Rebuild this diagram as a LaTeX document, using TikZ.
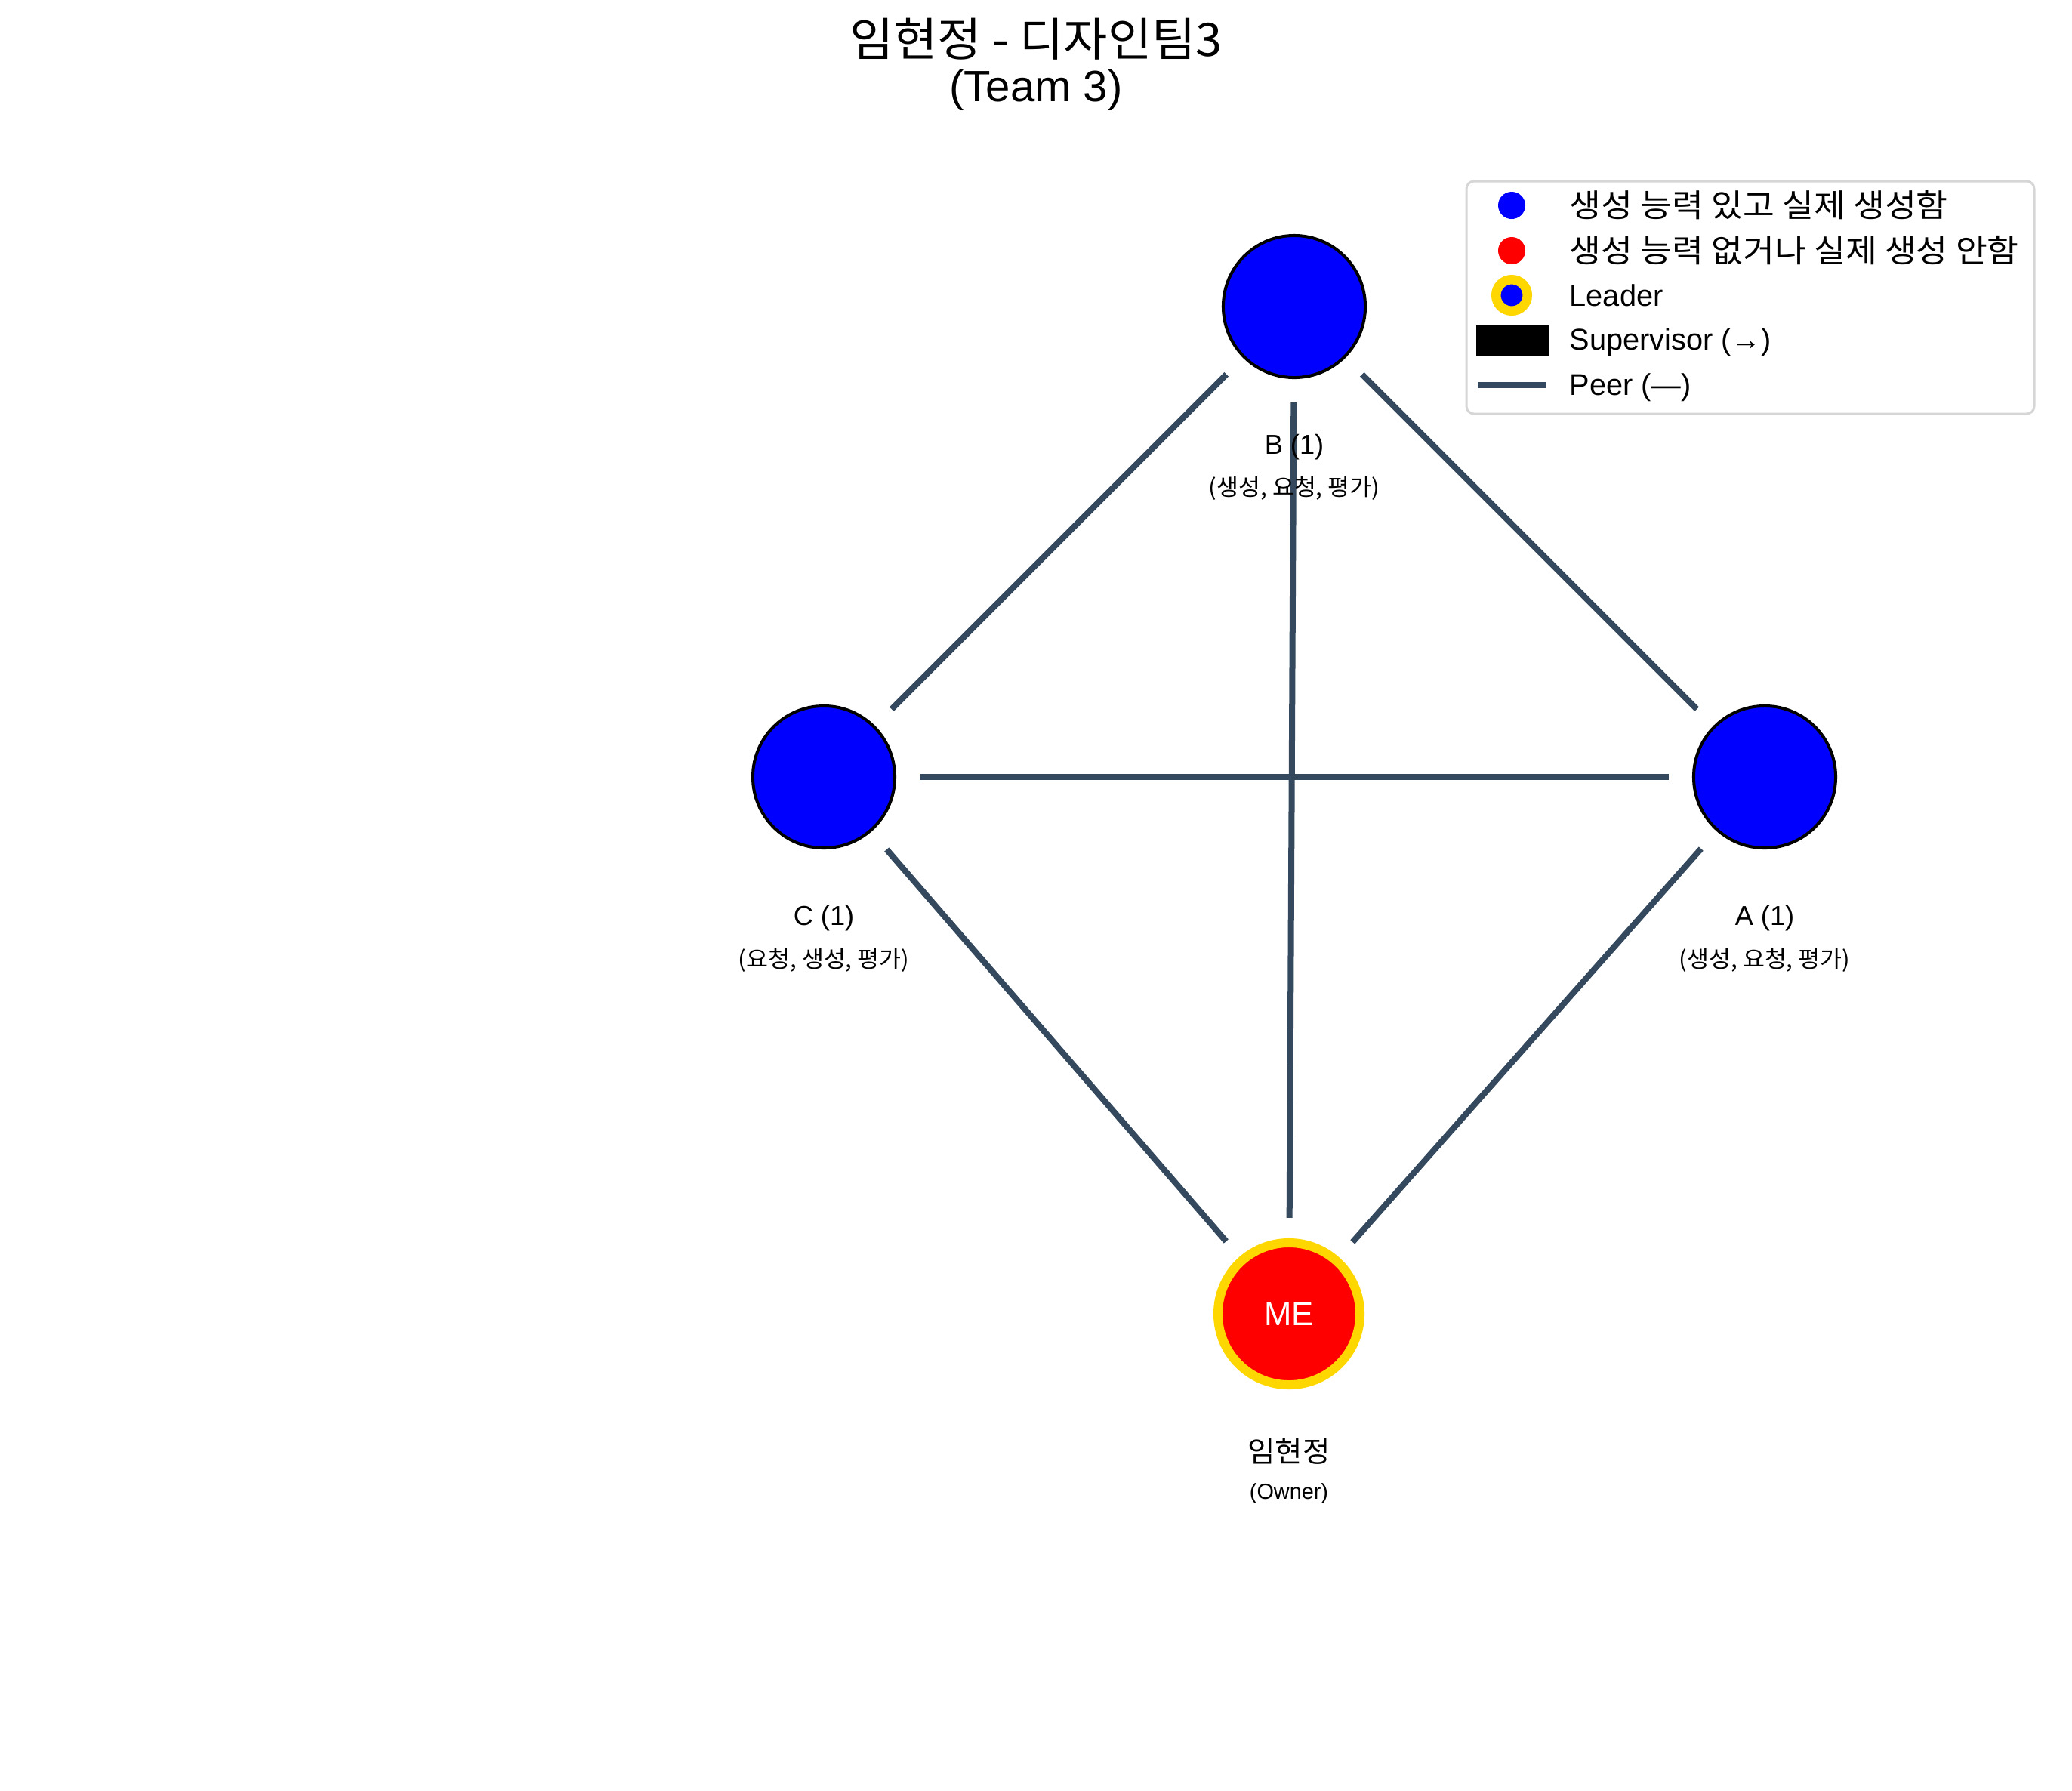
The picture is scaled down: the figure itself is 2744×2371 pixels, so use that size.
\documentclass[tikz,border=0pt]{standalone}
\usepackage{fontspec}
\setmainfont{Liberation Sans}
\newfontfamily\kr[Scale=1.06,FakeStretch=1.08]{Noto Sans CJK KR}
\newfontfamily\krb[Scale=1.05,FakeStretch=1.04]{Noto Sans CJK KR}
\definecolor{peercol}{HTML}{34495E}
\definecolor{gold}{HTML}{FFD700}
\definecolor{legedge}{HTML}{D6D6D6}
\begin{document}
\begin{tikzpicture}[x=0.01cm,y=-0.01cm,
  member/.style={circle,draw=black,line width=0.04cm,fill=blue,minimum size=1.88cm,inner sep=0pt,outer sep=0pt},
  leadernode/.style={circle,draw=gold,line width=0.12cm,fill=red,minimum size=1.88cm,inner sep=0pt,outer sep=0pt,text=white,font=\fontsize{12.4}{14}\selectfont},
  peer/.style={draw=peercol,line width=0.08cm,shorten >=0.33cm,shorten <=0.33cm},
  lbl/.style={inner sep=0pt,font=\fontsize{10.3}{12}\selectfont},
  sublbl/.style={inner sep=0pt,font=\krb\fontsize{8.2}{10}\selectfont},
  legtext/.style={anchor=west,inner sep=0pt,font=\fontsize{11.3}{13}\selectfont},
  legdot/.style={circle,inner sep=0pt,minimum size=0.36cm},
]
\useasboundingbox (0,0) rectangle (2744,2371);

% title
\node[inner sep=0pt,font=\krb\fontsize{16.5}{19}\selectfont] (title1) at (1372,52) {임현정 - 디자인팀3};
\node[inner sep=0pt,font=\fontsize{16.5}{19}\selectfont] (title2) at (1372,119) {(Team 3)};

% nodes
\node[member] (B) at (1714,406) {};
\node[member] (C) at (1091,1029) {};
\node[member] (A) at (2337,1029) {};
\node[leadernode] (ME) at (1707,1740) {ME};

% connectors
\draw[peer] (B) -- (C);
\draw[peer] (B) -- (A);
\draw[peer] (B) -- (ME);
\draw[peer] (C) -- (A);
\draw[peer] (C) -- (ME);
\draw[peer] (A) -- (ME);

% labels
\node[lbl] (Blbl) at (1714,592) {B (1)};
\node[sublbl] (Bsub) at (1714,647) {(생성, 요청, 평가)};
\node[lbl] (Clbl) at (1091,1216) {C (1)};
\node[sublbl] (Csub) at (1091,1272) {(요청, 생성, 평가)};
\node[lbl] (Albl) at (2337,1216) {A (1)};
\node[sublbl] (Asub) at (2337,1272) {(생성, 요청, 평가)};
\node[lbl,font=\krb\fontsize{10.3}{12}\selectfont] (MElbl) at (1707,1922) {임현정};
\node[lbl,font=\fontsize{8.2}{10}\selectfont] (MEsub) at (1707,1978) {(Owner)};

% legend
\draw[legedge,line width=0.03cm,rounded corners=0.1cm,fill=white] (1942,240) rectangle (2694,548);
\node[legdot,fill=blue] (lg1) at (2002,272) {};
\node[legtext,font=\kr\fontsize{11.3}{13}\selectfont] (lt1) at (2078,272) {생성 능력 있고 실제 생성함};
\node[legdot,fill=red] (lg2) at (2002,332) {};
\node[legtext,font=\kr\fontsize{11.3}{13}\selectfont] (lt2) at (2078,332) {생성 능력 없거나 실제 생성 안함};
\node[circle,inner sep=0pt,minimum size=0.415cm,draw=gold,line width=0.125cm,fill=blue] (lg3) at (2002,391) {};
\node[legtext] (lt3) at (2078,391) {Leader};
\node[fill=black,inner sep=0pt,minimum width=0.96cm,minimum height=0.42cm] (lg4) at (2003,451) {};
\node[legtext] (lt4) at (2078,453) {Supervisor (→)};
\coordinate (lg5a) at (1957,510);
\coordinate (lg5b) at (2048,510);
\draw[draw=peercol,line width=0.08cm] (lg5a) -- (lg5b);
\node[legtext] (lt5) at (2078,513) {Peer (—)};
\end{tikzpicture}
\end{document}
